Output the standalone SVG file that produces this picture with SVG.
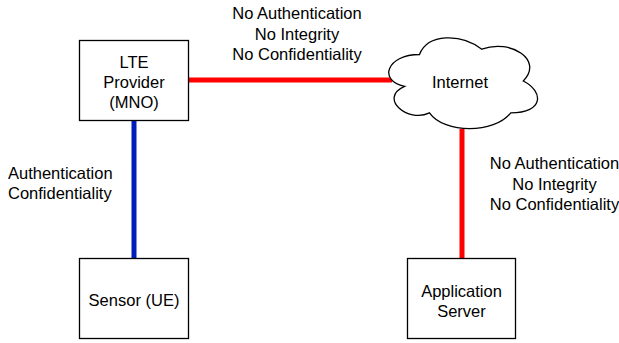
<svg xmlns="http://www.w3.org/2000/svg" width="619" height="343" viewBox="0 0 619 343">
<style>
.box{fill:#fff;stroke:#000;stroke-width:1.3}
text{font-family:"Liberation Sans",Arial,Helvetica,sans-serif;font-size:16.5px;fill:#000}
.c{text-anchor:middle}
.red{stroke:#ff0000;stroke-width:5;fill:none}
.blue{stroke:#001dbc;stroke-width:5;fill:none}
</style>
<rect width="619" height="343" fill="#fff"/>
<g id="connectors">
<line class="red" x1="189" y1="80" x2="392" y2="80"/>
<line class="blue" x1="134" y1="121" x2="134" y2="258"/>
<line class="red" x1="462" y1="129" x2="462" y2="258"/>
</g>
<g id="lte">
<rect class="box" x="79.5" y="40.5" width="109" height="80"/>
<text class="c" x="134" y="68">LTE</text>
<text class="c" x="134" y="88">Provider</text>
<text class="c" x="134" y="108">(MNO)</text>
</g>
<g id="internet">
<path class="box" d="M419.5,54.5 C386.3,54.5 378,81 404.6,86.3 C378,98 407.9,123.4 429.5,112.8 C444.4,134 494.2,134 510.8,112.8 C544,112.8 544,91.6 523.3,81 C544,59.8 510.8,38.6 481.8,49.2 C461,33.3 427.8,33.3 419.5,54.5 Z"/>
<text class="c" x="460" y="88">Internet</text>
</g>
<g id="sensor">
<rect class="box" x="79.5" y="258.5" width="109" height="80"/>
<text class="c" x="134" y="306">Sensor (UE)</text>
</g>
<g id="appserver">
<rect class="box" x="407.5" y="258.5" width="108" height="80"/>
<text class="c" x="461.5" y="297">Application</text>
<text class="c" x="461.5" y="317">Server</text>
</g>
<g id="labels">
<text class="c" x="297" y="19">No Authentication</text>
<text class="c" x="297" y="39.5">No Integrity</text>
<text class="c" x="297" y="60">No Confidentiality</text>
<text x="8" y="179">Authentication</text>
<text x="8" y="199">Confidentiality</text>
<text class="c" x="554.5" y="169">No Authentication</text>
<text class="c" x="554.5" y="189.5">No Integrity</text>
<text class="c" x="554.5" y="210">No Confidentiality</text>
</g>
</svg>
